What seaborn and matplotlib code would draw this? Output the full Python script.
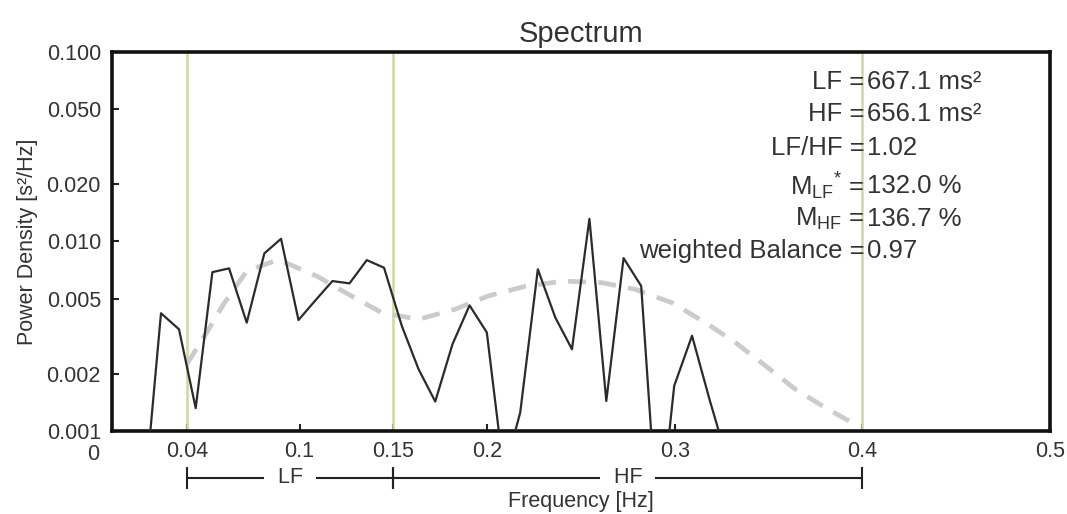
import matplotlib
matplotlib.use("Agg")
import matplotlib.pyplot as plt
import matplotlib.transforms as mtransforms
import seaborn as sns
import pandas as pd

# spectrum values
psd_freq = [0.0169, 0.0261, 0.0357, 0.0446, 0.0535, 0.0624, 0.0718, 0.0812, 0.0901, 0.0994,
            0.1085, 0.1175, 0.1266, 0.1358, 0.1450, 0.1545, 0.1634, 0.1723, 0.1815, 0.1906,
            0.1998, 0.2089, 0.2176, 0.2270, 0.2363, 0.2452, 0.2545, 0.2635, 0.2727, 0.2821,
            0.2912, 0.2997, 0.3092, 0.3185, 0.3275]
psd_vals = [0.00041, 0.00418, 0.00344, 0.00132, 0.00689, 0.00721, 0.00373, 0.00865, 0.01033, 0.00385,
            0.0049, 0.00618, 0.00601, 0.00797, 0.00727, 0.00358, 0.00212, 0.00143, 0.00287, 0.0046,
            0.00331, 0.0006, 0.00125, 0.00713, 0.00397, 0.0027, 0.01316, 0.00144, 0.00817, 0.00582,
            0.00028, 0.00173, 0.00318, 0.00147, 0.00073]

# smooth fitted curve (dashed)
fit_freq = [0.0398, 0.0505, 0.0594, 0.0718, 0.0887, 0.1092, 0.1260, 0.1438, 0.1634, 0.1829, 0.2007,
            0.2203, 0.2407, 0.2612, 0.2789, 0.2985, 0.3163, 0.3323, 0.3483, 0.3643, 0.3812, 0.3972]
fit_vals = [0.00225, 0.00331, 0.00466, 0.00698, 0.00802, 0.00656, 0.00526, 0.00421, 0.00388, 0.00439, 0.00516,
            0.0058, 0.00618, 0.00606, 0.00559, 0.00475, 0.00373, 0.00293, 0.00221, 0.00166, 0.00131, 0.00107]

band_edges = [0.04, 0.15, 0.4]
band_names = ["LF", "HF"]

x_ticks = [0, 0.04, 0.1, 0.15, 0.2, 0.3, 0.4, 0.5]
x_ticklabels = ["0", "0.04", "0.1", "0.15", "0.2", "0.3", "0.4", "0.5"]
y_ticks = [0.001, 0.002, 0.005, 0.01, 0.02, 0.05, 0.1]
y_ticklabels = ["0.001", "0.002", "0.005", "0.010", "0.020", "0.050", "0.100"]

stat_names = ["LF =", "HF =", "LF/HF =", r"M$_{\mathrm{LF}}$$^{*}$ =", r"M$_{\mathrm{HF}}$ =", "weighted Balance ="]
stat_values = ["667.1 ms²", "656.1 ms²", "1.02", "132.0 %", "136.7 %", "0.97"]
stat_rows = [0.921, 0.836, 0.747, 0.646, 0.559, 0.475]

sns.set_theme(style="ticks")
plt.rcParams["font.family"] = ["Liberation Sans", "DejaVu Sans"]
plt.rcParams["mathtext.fontset"] = "custom"
plt.rcParams["mathtext.rm"] = "Liberation Sans"
plt.rcParams["mathtext.it"] = "Liberation Sans:italic"
plt.rcParams["mathtext.bf"] = "Liberation Sans:bold"

txt = "#333333"
fig = plt.figure(figsize=(10.67, 5.14), dpi=100)
ax = fig.add_axes([0.105, 0.1615, 0.879, 0.7375])

for f in band_edges:
    ax.axvline(f, color="#d2d6a6", lw=1.8, zorder=1)

psd = pd.DataFrame({"freq": psd_freq, "psd": psd_vals})
fit = pd.DataFrame({"freq": fit_freq, "psd": fit_vals})
sns.lineplot(data=fit, x="freq", y="psd", ax=ax, sort=False, color="#cbcbcb", lw=3.4,
             linestyle=(0, (3.8, 2.6)), zorder=2)
sns.lineplot(data=psd, x="freq", y="psd", ax=ax, sort=False, color="#2b2b2b", lw=1.6, zorder=3)

ax.set_yscale("log")
ax.set_xlim(0, 0.5)
ax.set_ylim(0.001, 0.1)
ax.set_xticks(x_ticks)
ax.set_xticklabels(x_ticklabels)
ax.set_yticks(y_ticks)
ax.set_yticklabels(y_ticklabels)
ax.minorticks_off()
ax.tick_params(direction="in", length=5, width=1.5, colors="#222222", labelcolor=txt,
               labelsize=15.5, pad=7)
ax.tick_params(axis="y", pad=8)
for s in ax.spines.values():
    s.set_linewidth(2.6)
    s.set_color("#111111")

# "0" label sits left of the origin, just under "0.001", in the original
t0 = ax.xaxis.get_major_ticks()[0].label1
t0.set_transform(t0.get_transform() + mtransforms.ScaledTranslation(-0.19, -0.03, fig.dpi_scale_trans))

ax.set_title("Spectrum", fontsize=21, color=txt, pad=7)
ax.set_ylabel("Power Density [s²/Hz]", fontsize=15.5, color=txt, labelpad=6)
ax.set_xlabel("Frequency [Hz]", fontsize=15.5, color=txt, zorder=5)
ax.xaxis.set_label_coords(0.5, -0.158)

# band brackets under the axis
trans = mtransforms.blended_transform_factory(ax.transData, ax.transAxes)
yb = -0.124
for i, name in enumerate(band_names):
    lo, hi = band_edges[i], band_edges[i + 1]
    ax.plot([lo, hi], [yb, yb], color="#222222", lw=1.5, transform=trans, clip_on=False)
    ax.plot([lo, hi], [yb, yb], ls="none", marker="|", ms=16, mew=1.5, color="#222222",
            transform=trans, clip_on=False)
    ax.text((lo + hi) / 2, yb, "  " + name + "  ", transform=trans, ha="center", va="center",
            fontsize=15.5, color=txt, bbox=dict(facecolor="white", edgecolor="none", pad=1))

# statistics block around the 0.4 Hz line
for name, val, yy in zip(stat_names, stat_values, stat_rows):
    ax.annotate(name, (band_edges[2], yy), xycoords=trans, xytext=(1.5, 0), textcoords="offset points",
                ha="right", va="center", fontsize=18.5, color=txt)
    ax.annotate(val, (band_edges[2], yy), xycoords=trans, xytext=(3, 0), textcoords="offset points",
                ha="left", va="center", fontsize=18.5, color=txt)

fig.savefig("out.png", dpi=100)
